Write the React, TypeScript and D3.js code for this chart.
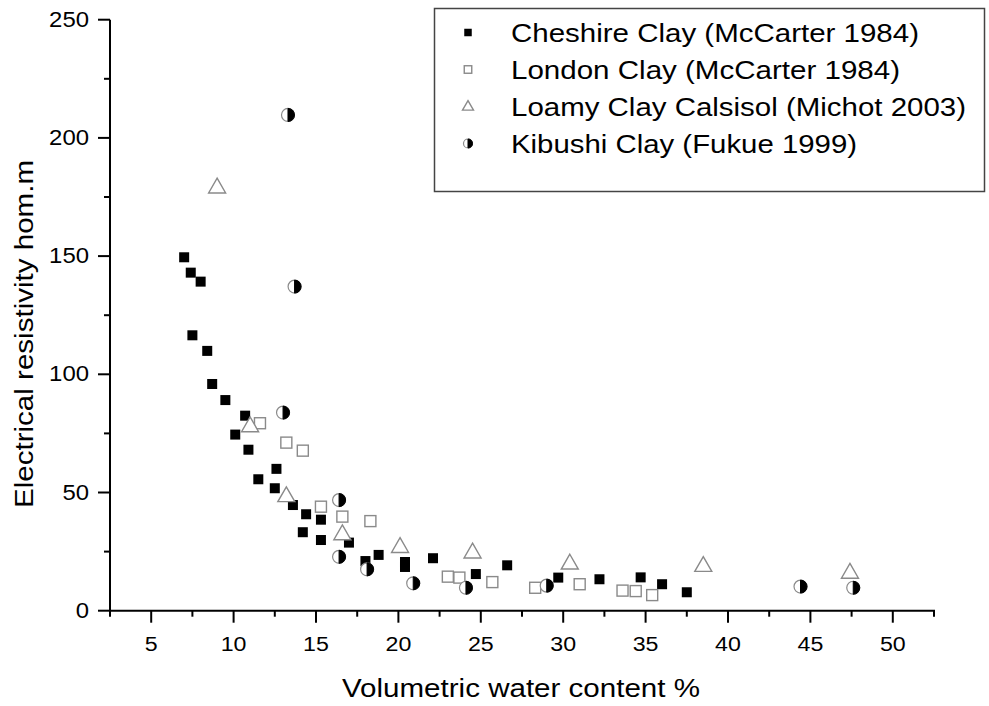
import React from "react";
import * as d3 from "d3";

const cheshireX = [7.0, 7.4, 8.0, 7.5, 8.4, 8.7, 9.5, 10.7, 10.1, 10.9, 12.6, 11.5, 12.5, 13.6, 14.4, 14.2, 15.3, 15.3, 17.0, 18.0, 18.8, 20.4, 20.4, 22.1, 24.7, 26.6, 29.7, 32.2, 34.7, 36.0, 37.5];
const cheshireY = [149.5, 143.0, 139.2, 116.5, 109.9, 95.9, 89.1, 82.5, 74.5, 68.1, 60.0, 55.6, 51.8, 44.7, 40.8, 33.2, 38.5, 29.9, 28.8, 21.0, 23.6, 20.6, 18.5, 22.2, 15.5, 19.2, 14.0, 13.3, 14.1, 11.2, 7.8];

const londonX = [11.6, 13.2, 14.2, 15.3, 16.6, 18.3, 23.0, 23.7, 25.7, 28.3, 31.0, 33.6, 34.4, 35.4];
const londonY = [79.3, 71.1, 67.7, 44.0, 39.8, 37.9, 14.4, 14.0, 12.1, 9.7, 11.2, 8.5, 8.3, 6.6];

const loamyX = [9.0, 11.0, 13.2, 16.6, 20.1, 24.5, 30.4, 38.5, 47.4];
const loamyY = [179.1, 78.1, 48.5, 32.4, 27.0, 24.7, 20.0, 19.0, 16.1];

const kibushiX = [13.3, 13.7, 13.0, 16.4, 16.4, 18.1, 20.9, 24.1, 29.0, 44.4, 47.6];
const kibushiY = [209.7, 137.1, 83.8, 46.8, 22.8, 17.5, 11.6, 9.7, 10.6, 10.2, 9.7];

const seriesNames = [
  "Cheshire Clay (McCarter 1984)",
  "London Clay (McCarter 1984)",
  "Loamy Clay Calsisol (Michot 2003)",
  "Kibushi Clay (Fukue 1999)",
];
const legendTextWidths = [408, 389, 455, 346];

const xMajor = [5, 10, 15, 20, 25, 30, 35, 40, 45, 50];
const xMinor = [2.5, 7.5, 12.5, 17.5, 22.5, 27.5, 32.5, 37.5, 42.5, 47.5, 52.5];
const yMajor = [0, 50, 100, 150, 200, 250];
const yMinor = [25, 75, 125, 175, 225];

const xTitle = "Volumetric water content %";
const yTitle = "Electrical resistivity hom.m";

const FONT = "'Liberation Sans', Arial, sans-serif";
const GRAY = "#8a8a8a";

function Marker({ kind, cx, cy, s }: { kind: number; cx: number; cy: number; s: number }) {
  if (kind === 0) {
    return <rect x={cx - s / 2} y={cy - s / 2} width={s} height={s} fill="#000" />;
  }
  if (kind === 1) {
    return (
      <rect x={cx - s / 2} y={cy - s / 2} width={s} height={s} fill="#fff" stroke={GRAY} strokeWidth={1.4} />
    );
  }
  if (kind === 2) {
    const h = s * 0.87;
    const tri = d3.path();
    tri.moveTo(cx, cy - h * 0.62);
    tri.lineTo(cx + s / 2, cy + h * 0.38);
    tri.lineTo(cx - s / 2, cy + h * 0.38);
    tri.closePath();
    return <path d={tri.toString()} fill="#fff" stroke={GRAY} strokeWidth={1.4} />;
  }
  const r = s / 2;
  const half = d3.path();
  half.moveTo(cx, cy - r);
  half.arc(cx, cy, r, -Math.PI / 2, Math.PI / 2, false);
  half.closePath();
  return (
    <g>
      <circle cx={cx} cy={cy} r={r} fill="#fff" stroke={GRAY} strokeWidth={1.2} />
      <path d={half.toString()} fill="#000" stroke="#000" strokeWidth={1} />
    </g>
  );
}

export default function App() {
  const x = d3.scaleLinear().domain([2.5, 52.5]).range([110, 934]);
  const y = d3.scaleLinear().domain([0, 250]).range([610.7, 19.7]);

  const series = [
    { xs: cheshireX, ys: cheshireY, size: 10 },
    { xs: londonX, ys: londonY, size: 11 },
    { xs: loamyX, ys: loamyY, size: 17 },
    { xs: kibushiX, ys: kibushiY, size: 13 },
  ];

  const x0 = x.range()[0];
  const x1 = x.range()[1];
  const yb = y.range()[0];
  const yt = y.range()[1];

  return (
    <svg
      width={989}
      height={706}
      style={{ position: "absolute", left: 0, top: 0, background: "#fff" }}
      fontFamily={FONT}
    >
      <rect width={989} height={706} fill="#fff" />
      {/* axes */}
      <line x1={x0} x2={x0} y1={yt} y2={yb} stroke="#000" strokeWidth={2} />
      <line x1={x0 - 1} x2={x1 + 1} y1={yb} y2={yb} stroke="#000" strokeWidth={2} />
      {yMajor.map((v) => {
        const s = String(v);
        return (
          <g key={"ym" + v}>
            <line x1={x0 - 12} x2={x0} y1={y(v)} y2={y(v)} stroke="#000" strokeWidth={2} />
            <text
              x={89 - s.length * 13.3}
              y={y(v) + 7}
              fontSize={22}
              textLength={s.length * 13.3}
              lengthAdjust="spacingAndGlyphs"
            >
              {s}
            </text>
          </g>
        );
      })}
      {yMinor.map((v) => (
        <line key={"yn" + v} x1={x0 - 6} x2={x0} y1={y(v)} y2={y(v)} stroke="#000" strokeWidth={2} />
      ))}
      {xMajor.map((v) => {
        const s = String(v);
        const w = s.length * 12.9;
        return (
          <g key={"xm" + v}>
            <line x1={x(v)} x2={x(v)} y1={yb} y2={yb + 12} stroke="#000" strokeWidth={2} />
            <text
              x={x(v) - w / 2}
              y={651}
              fontSize={20}
              textLength={w}
              lengthAdjust="spacingAndGlyphs"
            >
              {s}
            </text>
          </g>
        );
      })}
      {xMinor.map((v) => (
        <line key={"xn" + v} x1={x(v)} x2={x(v)} y1={yb} y2={yb + 6} stroke="#000" strokeWidth={2} />
      ))}
      <text x={342} y={697} fontSize={25} textLength={358} lengthAdjust="spacingAndGlyphs">
        {xTitle}
      </text>
      <text
        transform={`translate(33,508) rotate(-90)`}
        fontSize={26}
        textLength={348}
        lengthAdjust="spacingAndGlyphs"
      >
        {yTitle}
      </text>

      {/* data */}
      {series.map((s, si) =>
        s.xs.map((xv, i) => (
          <Marker key={si + "-" + i} kind={si} cx={x(xv)} cy={y(s.ys[i])} s={s.size} />
        ))
      )}

      {/* legend */}
      <rect x={434.5} y={8.5} width={550} height={183} fill="#fff" stroke="#444" strokeWidth={1.5} />
      {seriesNames.map((name, i) => (
        <g key={"lg" + i}>
          <Marker kind={i} cx={468} cy={32.5 + i * 37} s={i === 2 ? 11 : i === 3 ? 9 : 7.5} />
          <text
            x={511}
            y={41.5 + i * 37}
            fontSize={26}
            textLength={legendTextWidths[i]}
            lengthAdjust="spacingAndGlyphs"
          >
            {name}
          </text>
        </g>
      ))}
    </svg>
  );
}
